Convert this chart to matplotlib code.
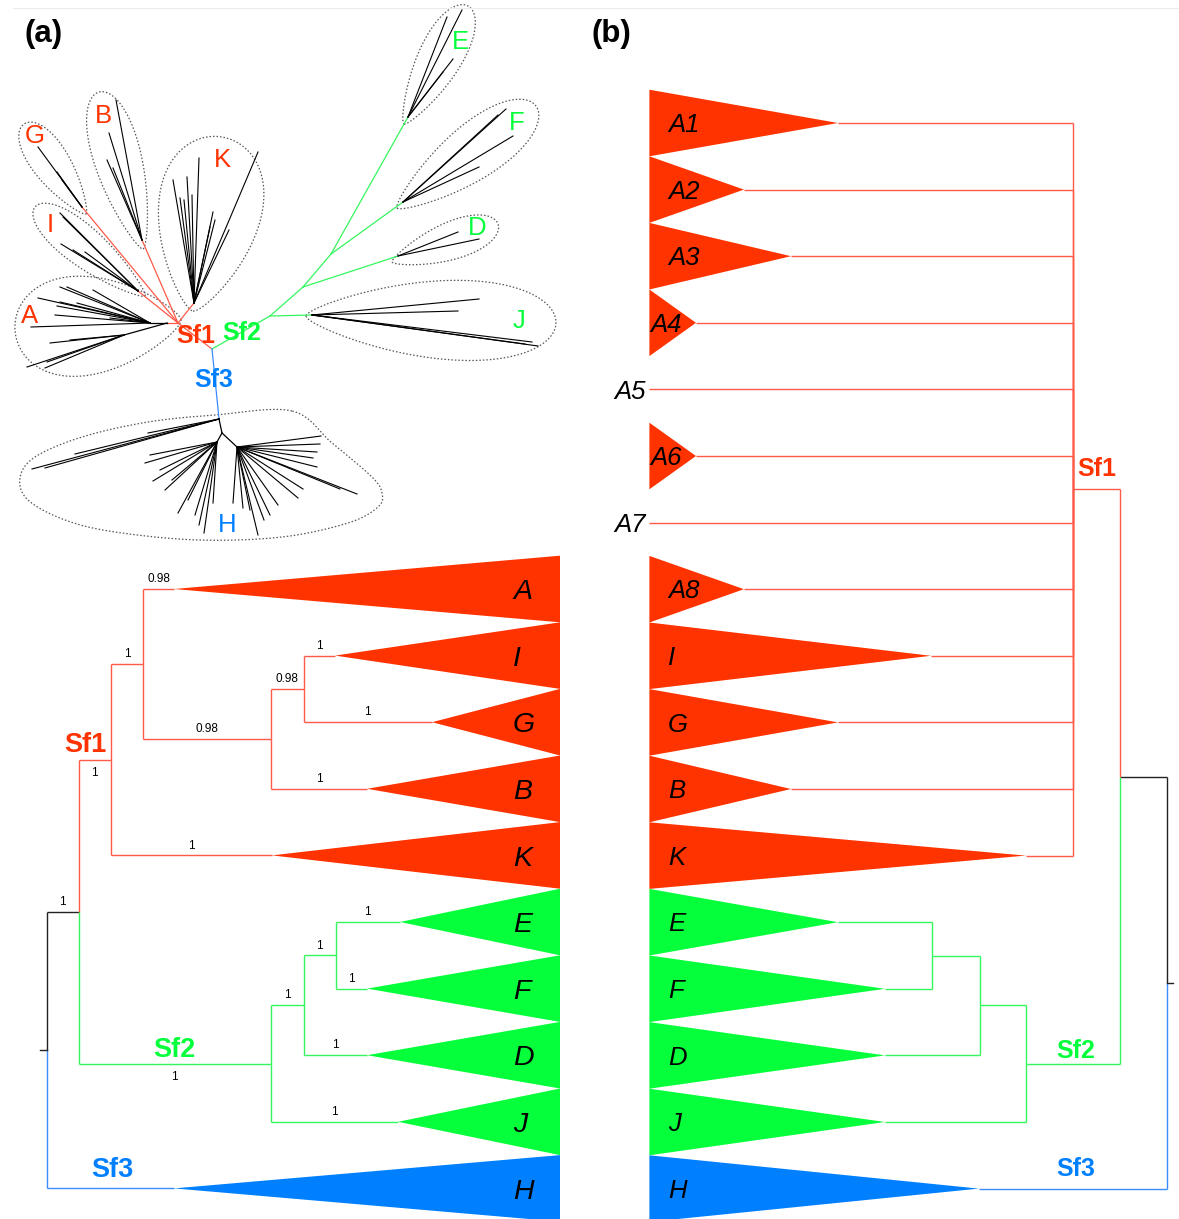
import numpy as np
import matplotlib
matplotlib.use('Agg')
import matplotlib.pyplot as plt
from matplotlib.patches import Polygon

plt.rcParams['font.family'] = ['Liberation Sans', 'DejaVu Sans']

# ---------------- colours ----------------
FILL = {'Sf1': '#ff3300', 'Sf2': '#05ff3b', 'Sf3': '#0080ff', None: 'black'}
LINE = {'Sf1': '#ff5a48', 'Sf2': '#35f55e', 'Sf3': '#3a8cff', None: '#222222'}

# ================= DATA =================
# ---- panel (a) lower: rooted tree with collapsed clades (depth in px units from root)
a_nodes        = ['root', 'n12', 'Sf1', 'nA', 'nIGB', 'nIG', 'Sf2', 'nEFD', 'nEF']
a_node_parent  = [None, 'root', 'n12', 'Sf1', 'nA', 'nIGB', 'n12', 'Sf2', 'nEFD']
a_node_depth   = [0, 31.5, 64, 96, 224, 256.5, 224, 256.5, 288.5]
a_node_group   = [None, None, 'Sf1', 'Sf1', 'Sf1', 'Sf1', 'Sf2', 'Sf2', 'Sf2']
a_node_support = [None, '1', '1', '1', '0.98', '0.98', '1', '1', '1']
a_leaves       = ['A', 'I', 'G', 'B', 'K', 'E', 'F', 'D', 'J', 'H']
a_leaf_parent  = ['nA', 'nIG', 'nIG', 'nIGB', 'Sf1', 'nEF', 'nEF', 'nEFD', 'Sf2', 'root']
a_leaf_depth   = [127, 288, 385, 320, 225, 353, 320, 320, 351, 127]
a_leaf_group   = ['Sf1'] * 5 + ['Sf2'] * 4 + ['Sf3']
a_leaf_support = ['0.98', '1', '1', '1', '1', '1', '1', '1', '1', None]
a_base_depth   = 513

# ---- panel (b): rooted tree, mirrored
b_nodes        = ['root', 'n12', 'Sf1', 'Sf2', 'nEFD', 'nEF']
b_node_parent  = [None, 'root', 'n12', 'n12', 'Sf2', 'nEFD']
b_node_depth   = [0, 47, 94.4, 141.6, 187.8, 235.4]
b_node_group   = [None, None, 'Sf1', 'Sf2', 'Sf2', 'Sf2']
b_leaves       = ['A1', 'A2', 'A3', 'A4', 'A5', 'A6', 'A7', 'A8', 'I', 'G', 'B', 'K',
                  'E', 'F', 'D', 'J', 'H']
b_leaf_parent  = ['Sf1'] * 12 + ['nEF', 'nEF', 'nEFD', 'Sf2', 'root']
b_leaf_depth   = [329.4, 423.4, 376.4, 471.4, 518, 471.4, 518, 423.4, 236.4, 329.4,
                  376.4, 141.6, 329.4, 282.4, 282.4, 282.4, 188.6]
b_leaf_group   = ['Sf1'] * 12 + ['Sf2'] * 4 + ['Sf3']
b_leaf_collapsed = [True, True, True, True, False, True, False, True, True, True,
                    True, True, True, True, True, True, True]
b_base_depth   = 518

# ---- panel (a) upper: unrooted tree (positions)
ur_node_names = ['Sf1', 'C', 'nJ', 'nD', 'nF', 'rA', 'aU', 'aL', 'rI', 'rG', 'rB', 'rK',
                 'rE', 'rF', 'rD', 'rJ', 'rH', 'hC', 'hL', 'hR']
ur_node_x = [178, 212, 270, 303, 331, 167, 150, 124, 138, 82, 142, 194,
             408, 403, 398, 312, 219, 222, 217, 237]
ur_node_y = [323, 349, 316, 287, 254, 323, 323, 335, 291, 207, 240, 303,
             117, 202, 256, 315, 419, 433, 442, 447]
ur_edges = [('C', 'Sf1', 'Sf1'), ('Sf1', 'rA', 'Sf1'), ('Sf1', 'rI', 'Sf1'),
            ('Sf1', 'rG', 'Sf1'), ('Sf1', 'rB', 'Sf1'), ('Sf1', 'rK', 'Sf1'),
            ('C', 'nJ', 'Sf2'), ('nJ', 'rJ', 'Sf2'), ('nJ', 'nD', 'Sf2'),
            ('nD', 'rD', 'Sf2'), ('nD', 'nF', 'Sf2'), ('nF', 'rF', 'Sf2'),
            ('nF', 'rE', 'Sf2'), ('C', 'rH', 'Sf3'),
            ('rA', 'aU', None), ('rA', 'aL', None), ('rH', 'hC', None),
            ('hC', 'hL', None), ('hC', 'hR', None)]

tips_aU_x = [38, 60, 67, 93, 57, 55, 31, 60, 77, 110]
tips_aU_y = [298, 287, 287, 290, 306, 315, 327, 302, 303, 318]
tips_aL_x = [50, 27, 45, 47, 70]
tips_aL_y = [343, 367, 368, 362, 340]
tips_I_x = [60, 61, 73, 63, 85]
tips_I_y = [213, 244, 250, 217, 252]
tips_G_x = [38, 57, 62]
tips_G_y = [147, 172, 180]
tips_B_x = [116, 109, 107, 113]
tips_B_y = [100, 133, 160, 168]
tips_K_x = [258, 199, 173, 187, 180, 192, 213, 229, 210, 215, 184]
tips_K_y = [152, 158, 180, 177, 198, 195, 212, 230, 227, 220, 200]
tips_E_x = [447, 462, 453, 443]
tips_E_y = [17, 10, 59, 72]
tips_F_x = [506, 513, 479, 498]
tips_F_y = [109, 136, 167, 115]
tips_D_x = [458, 479]
tips_D_y = [232, 239]
tips_J_x = [479, 458, 538, 532, 525]
tips_J_y = [299, 311, 346, 342, 344]
tips_Hlong_x = [32, 148, 75, 45]
tips_Hlong_y = [469, 433, 454, 468]
tips_hL_x = [145, 150, 153, 178, 199, 204, 213, 188, 172, 160, 195, 165]
tips_hL_y = [463, 455, 481, 513, 525, 533, 503, 500, 480, 470, 515, 490]
tips_hR_x = [233, 243, 258, 264, 278, 298, 303, 317, 321, 320, 317, 340, 357, 313, 250, 270]
tips_hR_y = [503, 508, 535, 520, 505, 498, 489, 467, 436, 444, 452, 489, 494, 458, 510, 515]
tip_sets = [('aU', tips_aU_x, tips_aU_y), ('aL', tips_aL_x, tips_aL_y),
            ('rI', tips_I_x, tips_I_y), ('rG', tips_G_x, tips_G_y),
            ('rB', tips_B_x, tips_B_y), ('rK', tips_K_x, tips_K_y),
            ('rE', tips_E_x, tips_E_y), ('rF', tips_F_x, tips_F_y),
            ('rD', tips_D_x, tips_D_y), ('rJ', tips_J_x, tips_J_y),
            ('rH', tips_Hlong_x, tips_Hlong_y), ('hL', tips_hL_x, tips_hL_y),
            ('hR', tips_hR_x, tips_hR_y)]

ur_labels   = ['G', 'B', 'I', 'A', 'K', 'E', 'F', 'D', 'J', 'H']
ur_label_x  = [35, 103, 50, 30, 222, 460, 517, 477, 519, 227]
ur_label_y  = [134, 114, 223, 314, 158, 40, 121, 226, 319, 523]
ur_label_g  = ['Sf1'] * 5 + ['Sf2'] * 4 + ['Sf3']

# clade outlines (teardrops): narrow end, wide end, width
outline_names = ['G', 'B', 'I', 'A', 'K', 'E', 'F', 'D', 'J']
outline_p0 = [(86, 214), (143, 249), (145, 296), (181, 320), (193, 311), (404, 124), (397, 208), (392, 262), (306, 316)]
outline_p1 = [(24, 124), (99, 92), (35, 207), (15, 330), (222, 137), (468, 6), (536, 106), (498, 224), (556, 323)]
outline_w  = [38, 48, 40, 100, 104, 44, 56, 38, 80]
H_outline_x = [292, 215, 148, 82, 35, 20, 28, 65, 115, 198, 282, 348, 378, 382, 372, 332]
H_outline_y = [411, 415, 422, 437, 457, 478, 500, 520, 532, 540, 537, 523, 507, 493, 477, 443]

# ================= FIGURE =================
fig = plt.figure(figsize=(11.79, 12.19), dpi=100)
ax = fig.add_axes([0, 0, 1, 1])
ax.set_xlim(0, 1179)
ax.set_ylim(1219, 0)
ax.axis('off')

PX = 100 / 72.0


def ctext(x, y, s, size, **kw):
    # place text so that capital letters are vertically centred on y
    ax.text(x, y + 0.716 * size * PX / 2, s, fontsize=size, va='baseline', **kw)


# faint top rule
ax.plot([13, 1179], [7.5, 7.5], color='#ececec', lw=0.8)

# panel letters
ctext(44, 31, '(a)', 22.5, ha='center', fontweight='bold')
ctext(611, 31, '(b)', 22.5, ha='center', fontweight='bold')


def draw_rooted(nodes, parent, depth, ngroup, leaves, lparent, ldepth, lgroup,
                base_depth, x0, direction, y0, step, collapsed=None):
    ys = {leaf: y0 + i * step for i, leaf in enumerate(leaves)}
    xs = {}
    groups = {}
    for n, d, g in zip(nodes, depth, ngroup):
        xs[n] = x0 + direction * d
        groups[n] = g
    for l, d, g in zip(leaves, ldepth, lgroup):
        xs[l] = x0 + direction * d
        groups[l] = g
    children = {n: [] for n in nodes}
    for n, p in zip(nodes, parent):
        if p is not None:
            children[p].append(n)
    for l, p in zip(leaves, lparent):
        children[p].append(l)

    def gety(n):
        if n in ys:
            return ys[n]
        cy = [gety(c) for c in children[n]]
        ys[n] = (min(cy) + max(cy)) / 2
        return ys[n]
    gety('root')

    h = step / 2
    base_x = x0 + direction * base_depth
    for n in nodes:
        for c in children[n]:
            col = LINE[groups[c]]
            ax.plot([xs[n], xs[n]], [ys[n], ys[c]], color=col, lw=1.0, solid_capstyle='butt', zorder=2)
            ax.plot([xs[n], xs[c]], [ys[c], ys[c]], color=col, lw=1.0, solid_capstyle='butt', zorder=2)
    for i, l in enumerate(leaves):
        coll = True if collapsed is None else collapsed[i]
        if coll:
            tri = Polygon([(xs[l], ys[l]), (base_x, ys[l] - h), (base_x, ys[l] + h)],
                          closed=True, facecolor=FILL[lgroup[i]], edgecolor='none', zorder=3)
            ax.add_patch(tri)
    return xs, ys, children


# ---------- panel (a) lower ----------
xa, ya, cha = draw_rooted(a_nodes, a_node_parent, a_node_depth, a_node_group,
                          a_leaves, a_leaf_parent, a_leaf_depth, a_leaf_group,
                          a_base_depth, 47, 1, 589, 66.6)
ax.plot([40, 47], [ya['root'], ya['root']], color='#222222', lw=1.0)
for l in a_leaves:
    ctext(513, ya[l], l, 20.5, style='italic', ha='left', zorder=4)

parent_of = dict(zip(a_nodes, a_node_parent))
parent_of.update(dict(zip(a_leaves, a_leaf_parent)))
below = {'Sf1', 'Sf2'}
for names, sups in ((a_nodes, a_node_support), (a_leaves, a_leaf_support)):
    for n, s in zip(names, sups):
        if s is None:
            continue
        p = parent_of[n]
        mx = (xa[p] + xa[n]) / 2
        yy = ya[n] + 12 if n in below else ya[n] - 11
        ctext(mx, yy, s, 8.5, ha='center')


def sf_label(xs, ys, parents, child, name, group, dx, dy, size):
    p = parents[child]
    mx = (xs[p] + xs[child]) / 2
    ctext(mx + dx, ys[child] + dy, name, size, ha='center', color=FILL[group],
          fontweight='bold')


sf_label(xa, ya, parent_of, 'Sf1', 'Sf1', 'Sf1', -9, -17, 19.5)
sf_label(xa, ya, parent_of, 'Sf2', 'Sf2', 'Sf2', 0, -16, 19.5)
sf_label(xa, ya, parent_of, 'H', 'Sf3', 'Sf3', 2, -21, 19.5)

# ---------- panel (b) ----------
xb, yb, chb = draw_rooted(b_nodes, b_node_parent, b_node_depth, b_node_group,
                          b_leaves, b_leaf_parent, b_leaf_depth, b_leaf_group,
                          b_base_depth, 1167.4, -1, 123, 66.6, collapsed=b_leaf_collapsed)
ax.plot([1167.4, 1173], [yb['root'], yb['root']], color='#222222', lw=1.0)
base_b = 1167.4 - b_base_depth
for l, coll in zip(b_leaves, b_leaf_collapsed):
    if not coll:
        ctext(base_b - 4, yb[l], l, 18.5, style='italic', ha='right', zorder=4)
    elif xb[l] - base_b < 60:
        ctext(base_b + 1, yb[l], l, 18.5, style='italic', ha='left', zorder=4)
    else:
        ctext(668, yb[l], l, 18.5, style='italic', ha='left', zorder=4)

parent_b = dict(zip(b_nodes, b_node_parent))
parent_b.update(dict(zip(b_leaves, b_leaf_parent)))
sf_label(xb, yb, parent_b, 'Sf1', 'Sf1', 'Sf1', 0, -22, 18)
sf_label(xb, yb, parent_b, 'Sf2', 'Sf2', 'Sf2', 3, -15, 18)
sf_label(xb, yb, parent_b, 'H', 'Sf3', 'Sf3', 3, -22, 18)

# ---------- panel (a) upper: unrooted tree ----------
P = {n: (x, y) for n, x, y in zip(ur_node_names, ur_node_x, ur_node_y)}
for a, b, g in ur_edges:
    col = LINE[g] if g else 'black'
    ax.plot([P[a][0], P[b][0]], [P[a][1], P[b][1]], color=col, lw=0.9, zorder=2)
for node, tx, ty in tip_sets:
    for x, y in zip(tx, ty):
        ax.plot([P[node][0], x], [P[node][1], y], color='black', lw=0.8, zorder=2)


def teardrop(p0, p1, w, n=240, m=1.0, a=0.25):
    th = np.linspace(0, 2 * np.pi, n)
    u = (1 - np.cos(th)) / 2
    v = np.sin(th) * (a + (1 - a) * np.abs(np.sin(th / 2)) ** m)
    v = v / np.abs(v).max() * w / 2
    p0 = np.array(p0, float)
    p1 = np.array(p1, float)
    d = p1 - p0
    L = np.hypot(*d)
    t = d / L
    nrm = np.array([-t[1], t[0]])
    pts = p0[None, :] + u[:, None] * d[None, :] + v[:, None] * nrm[None, :]
    return pts


dot_style = dict(color='#555555', lw=0.9, ls=(0, (1.2, 1.6)), zorder=1)
for p0, p1, w in zip(outline_p0, outline_p1, outline_w):
    pts = teardrop(p0, p1, w)
    ax.plot(pts[:, 0], pts[:, 1], **dot_style)


def closed_spline(xs, ys, k=20):
    pts = np.column_stack([xs, ys]).astype(float)
    n = len(pts)
    out = []
    for i in range(n):
        p0, p1, p2, p3 = pts[(i - 1) % n], pts[i], pts[(i + 1) % n], pts[(i + 2) % n]
        t = np.linspace(0, 1, k, endpoint=False)[:, None]
        seg = 0.5 * ((2 * p1) + (-p0 + p2) * t + (2 * p0 - 5 * p1 + 4 * p2 - p3) * t ** 2
                     + (-p0 + 3 * p1 - 3 * p2 + p3) * t ** 3)
        out.append(seg)
    out = np.vstack(out)
    return np.vstack([out, out[:1]])


hp = closed_spline(H_outline_x, H_outline_y)
ax.plot(hp[:, 0], hp[:, 1], **dot_style)

for s, x, y, g in zip(ur_labels, ur_label_x, ur_label_y, ur_label_g):
    ctext(x, y, s, 18.5, ha='center', color=FILL[g], zorder=4)

ctext(196, 334, 'Sf1', 18, ha='center', color=FILL['Sf1'], fontweight='bold', zorder=4)
ctext(242, 331, 'Sf2', 18, ha='center', color=FILL['Sf2'], fontweight='bold', zorder=4)
ctext(214, 378, 'Sf3', 18, ha='center', color=FILL['Sf3'], fontweight='bold', zorder=4)

fig.savefig('out.png', dpi=100)
